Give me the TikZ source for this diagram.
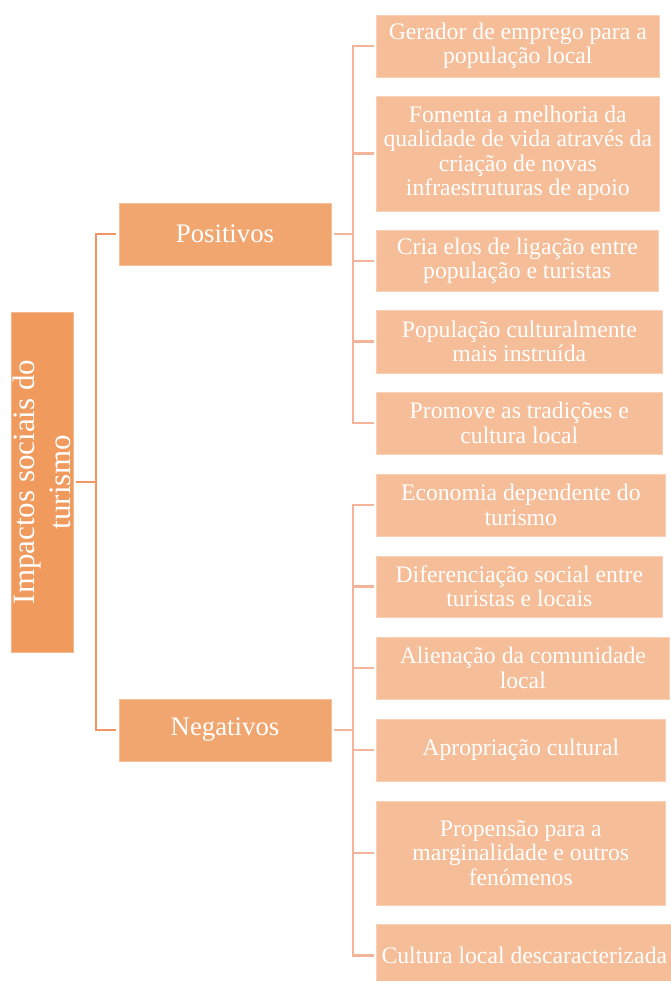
\documentclass[tikz,border=0pt]{standalone}
\usepackage{fontspec}
\setmainfont{Liberation Serif}
\definecolor{rootfill}{RGB}{240,154,94}
\definecolor{midfill}{RGB}{241,166,111}
\definecolor{leaffill}{RGB}{245,189,152}
\definecolor{rootline}{RGB}{239,150,100}
\definecolor{leafline}{RGB}{243,180,154}
\begin{document}
\begin{tikzpicture}[x=1pt, y=-1pt,
	box/.style={rectangle, inner sep=0pt, text=white, align=center},
	rootbox/.style={box, fill=rootfill, draw=rootfill!70!white, line width=0.6pt, minimum width=340pt, minimum height=62pt, font=\fontsize{31}{36}\selectfont},
	midbox/.style={box, fill=midfill, draw=midfill!70!white, line width=0.6pt, minimum width=212pt, minimum height=62pt, font=\fontsize{26.8}{30}\selectfont},
	leafbox/.style={box, anchor=west, fill=leaffill, draw=leaffill!70!white, line width=0.6pt, font=\fontsize{23.7}{24.5}\selectfont},
	rootedge/.style={draw=rootline, line width=2.2pt, shorten <=2.5pt, shorten >=2.5pt},
	leafedge/.style={draw=leafline, line width=2.2pt, shorten <=2.5pt, shorten >=2.5pt}]
					\useasboundingbox (0,0) rectangle (670,981);
					\node[rootbox, rotate=90] (root) at (42,482){Impactos sociais do\\turismo};
					
					\node[midbox] (pos) at (225,234){Positivos};
					\node[midbox] (neg) at (225,730){Negativos};
					
					\node[leafbox, minimum width=283pt, minimum height=62pt] (p1) at (376,46){Gerador de emprego para a\\população local};
					\node[leafbox, minimum width=283pt, minimum height=115pt] (p2) at (376,153.5){Fomenta a melhoria da\\qualidade de vida através da\\criação de novas\\infraestruturas de apoio};
					\node[leafbox, minimum width=282pt, minimum height=61pt] (p3) at (376,261){Cria elos de ligação entre\\população e turistas};
					\node[leafbox, minimum width=286pt, minimum height=63pt] (p4) at (376,341.5){População culturalmente\\mais instruída};
					\node[leafbox, minimum width=286pt, minimum height=62pt] (p5) at (376,423){Promove as tradições e\\cultura local};
					
					\node[leafbox, minimum width=289pt, minimum height=62pt] (n1) at (376,505){Economia dependente do\\turismo};
					\node[leafbox, minimum width=286pt, minimum height=61pt] (n2) at (376,586.5){Diferenciação social entre\\turistas e locais};
					\node[leafbox, minimum width=293pt, minimum height=62pt] (n3) at (376,668){Alienação da comunidade\\local};
					\node[leafbox, minimum width=289pt, minimum height=62pt] (n4) at (376,750){Apropriação cultural};
					\node[leafbox, minimum width=289pt, minimum height=104pt] (n5) at (376,853){Propensão para a\\marginalidade e outros\\fenómenos};
					\node[leafbox, minimum width=296pt, minimum height=63pt] (n6) at (376,955.5){Cultura local descaracterizada};
					
					\path[rootedge] (root.south) -- ++(23,0) |- (pos.west);
					\path[rootedge] (root.south) -- ++(23,0) |- (neg.west);
					\foreach \leaf in {p1,p2,p3,p4,p5}
						\path[leafedge] (pos.east) -- ++(22,0) |- (\leaf.west);
					\foreach \leaf in {n1,n2,n3,n4,n5,n6}
						\path[leafedge] (neg.east) -- ++(22,0) |- (\leaf.west);
					\end{tikzpicture}
\end{document}
